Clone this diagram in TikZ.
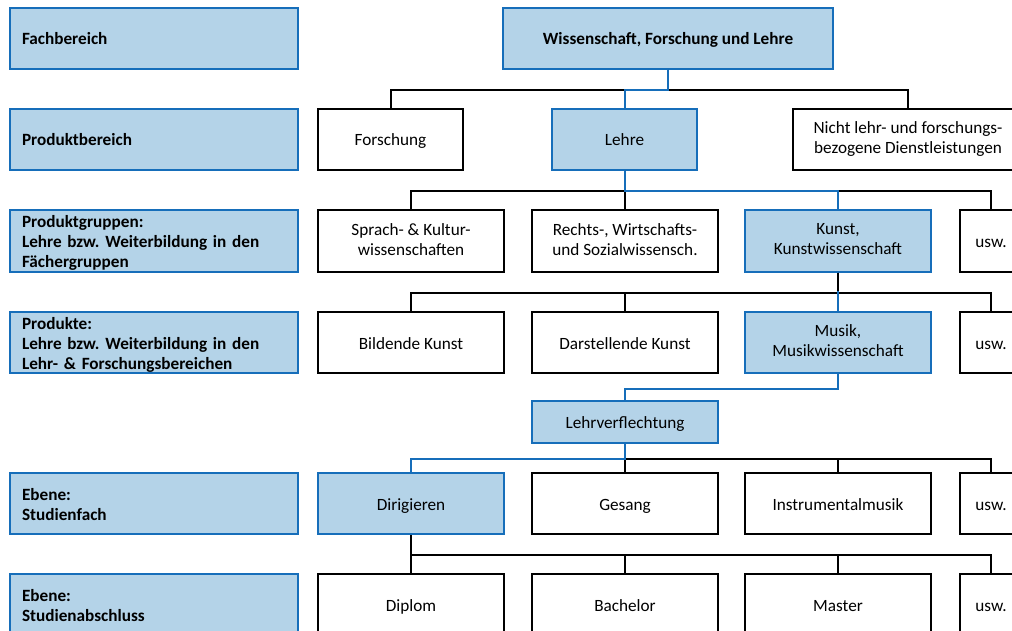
\documentclass[tikz,border=0pt]{standalone}
\usepackage{fontspec}
\setmainfont{Carlito}
\frenchspacing

\definecolor{boxblue}{RGB}{180,211,232}
\definecolor{lineblue}{RGB}{22,110,186}

\newcommand{\boxfont}{\fontsize{17.2}{20}\selectfont}
\newcommand{\boxstrut}{\rule[-3.5pt]{0pt}{20pt}}

\tikzstyle{rowbox}=[draw=lineblue,fill=boxblue,line width=2pt,minimum width=288pt,minimum height=61pt,text width=264pt,align=left,inner sep=0pt,font=\boxfont\bfseries,execute at begin node=\boxstrut,execute at end node=\boxstrut]
\tikzstyle{unitbox}=[draw=black,fill=white,line width=2pt,minimum width=186pt,minimum height=61pt,align=center,inner sep=0pt,font=\boxfont,execute at begin node=\boxstrut,execute at end node=\boxstrut]
\tikzstyle{keybox}=[unitbox,draw=lineblue,fill=boxblue]
\tikzstyle{wire}=[black,line width=2pt]
\tikzstyle{keywire}=[lineblue,line width=2pt]

\begin{document}
\begin{tikzpicture}[x=1pt,y=-1pt]
	\useasboundingbox (0,0) rectangle (1012,631);
	\clip (0,0) rectangle (1012,631);

	% left column
	\node[rowbox] (fb) at (154,38.5) {Fachbereich};
	\node[rowbox] (pb) at (154,139.5) {Produktbereich};
	\node[rowbox] (pg) at (154,241) {Produktgruppen:\\Lehre bzw. Weiterbildung in den\\Fächergruppen};
	\node[rowbox] (pr) at (154,342.5) {Produkte:\\Lehre bzw. Weiterbildung in den\\Lehr- \& Forschungsbereichen};
	\node[rowbox] (sf) at (154,503.5) {Ebene:\\Studienfach};
	\node[rowbox] (sa) at (154,604.5) {Ebene:\\Studienabschluss};

	\node[keybox,minimum width=330pt,font=\boxfont\bfseries] (wfl) at (668,38.5) {Wissenschaft, Forschung und Lehre};

	\node[unitbox,minimum width=145pt] (fo) at (390.5,139.5) {Forschung};
	\node[keybox,minimum width=145pt] (le) at (624.5,139.5) {Lehre};
	\node[unitbox,minimum width=230pt] (nd) at (908,139.5) {Nicht lehr- und forschungs-\\bezogene Dienstleistungen};

	\node[unitbox] (sk) at (411,241) {Sprach- \& Kultur-\\wissenschaften};
	\node[unitbox] (rw) at (625,241) {Rechts-, Wirtschafts-\\und Sozialwissensch.};
	\node[keybox] (ku) at (838,241) {Kunst,\\Kunstwissenschaft};
	\node[unitbox,minimum width=62pt] (uw1) at (991,241) {usw.};

	\node[unitbox] (bk) at (411,342.5) {Bildende Kunst};
	\node[unitbox] (dk) at (625,342.5) {Darstellende Kunst};
	\node[keybox] (mu) at (838,342.5) {Musik,\\Musikwissenschaft};
	\node[unitbox,minimum width=62pt] (uw2) at (991,342.5) {usw.};

	\node[keybox,minimum height=42pt] (lv) at (625,422) {Lehrverflechtung};

	\node[keybox] (di) at (411,503.5) {Dirigieren};
	\node[unitbox] (ge) at (625,503.5) {Gesang};
	\node[unitbox] (im) at (838,503.5) {Instrumentalmusik};
	\node[unitbox,minimum width=62pt] (uw3) at (991,503.5) {usw.};

	\node[unitbox] (dp) at (411,604.5) {Diplom};
	\node[unitbox] (ba) at (625,604.5) {Bachelor};
	\node[unitbox] (ma) at (838,604.5) {Master};
	\node[unitbox,minimum width=62pt] (uw4) at (991,604.5) {usw.};

	% connectors
	\draw[wire] (wfl.south) -- ++(0,20) -| (fo.north);
	\draw[wire] (wfl.south) -- ++(0,20) -| (nd.north);
	\draw[keywire] (wfl.south) -- ++(0,20) -| (le.north);

	\draw[wire] (le.south) -- ++(0,20) -| (sk.north);
	\draw[wire] (le.south) -- ++(0,20) -| (rw.north);
	\draw[wire] (le.south) -- ++(0,20) -| (uw1.north);
	\draw[keywire] (le.south) -- ++(0,20) -| (ku.north);

	\draw[wire] (ku.south) -- ++(0,20) -| (bk.north);
	\draw[wire] (ku.south) -- ++(0,20) -| (dk.north);
	\draw[wire] (ku.south) -- ++(0,20) -| (uw2.north);
	\draw[keywire] (mu.north) -- ++(0,-20);

	\draw[keywire] (mu.south) -- ++(0,15) -| (lv.north);

	\draw[wire] (lv.south) -- ++(0,15) -| (ge.north);
	\draw[wire] (lv.south) -- ++(0,15) -| (im.north);
	\draw[wire] (lv.south) -- ++(0,15) -| (uw3.north);
	\draw[keywire] (lv.south) -- ++(0,15) -| (di.north);

	\draw[wire,line width=2.5pt] (di.south) -- ++(0,20) -| (dp.north);
	\draw[wire,line width=2.5pt] (di.south) -- ++(0,20) -| (ba.north);
	\draw[wire,line width=2.5pt] (di.south) -- ++(0,20) -| (ma.north);
	\draw[wire,line width=2.5pt] (di.south) -- ++(0,20) -| (uw4.north);
\end{tikzpicture}
\end{document}
